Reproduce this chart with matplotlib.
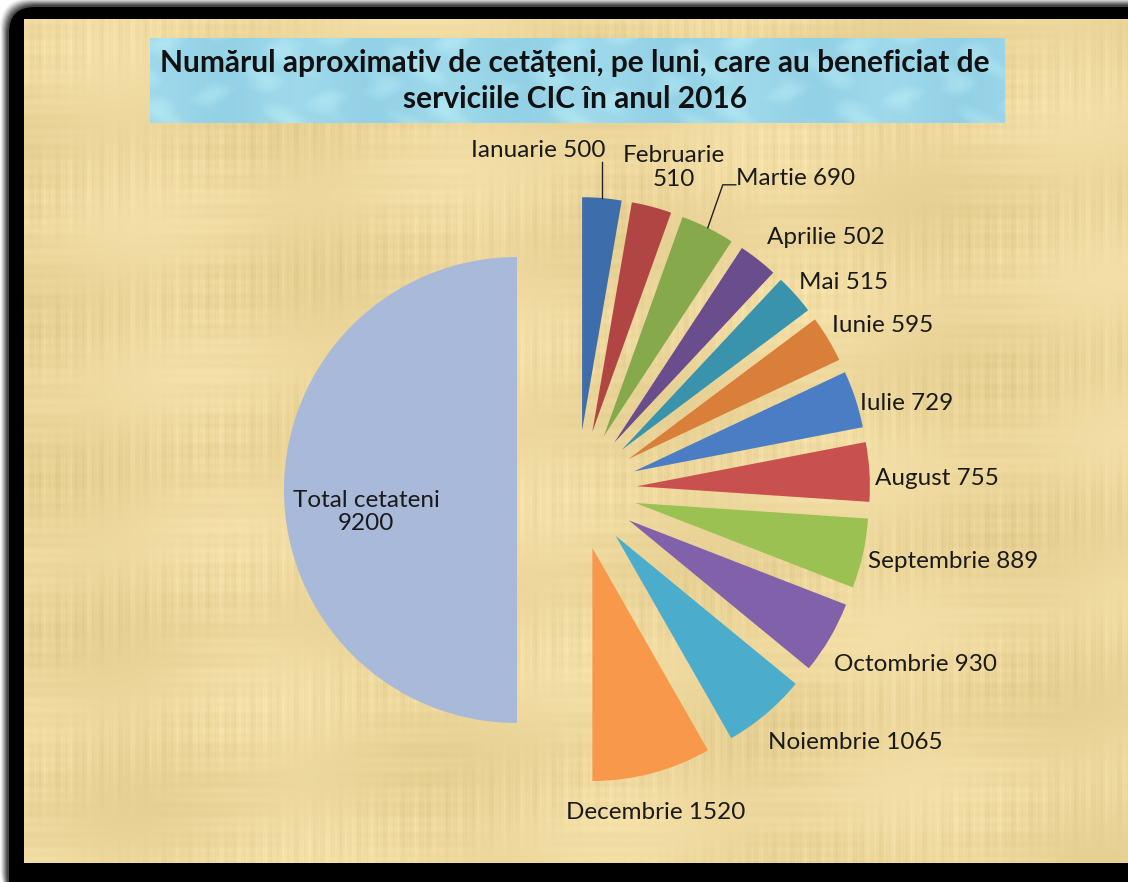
import matplotlib.pyplot as plt
import numpy as np
from matplotlib.patches import FancyBboxPatch

# data
months = ["Ianuarie", "Februarie", "Martie", "Aprilie", "Mai", "Iunie", "Iulie",
          "August", "Septembrie", "Octombrie", "Noiembrie", "Decembrie"]
citizens = [500, 510, 690, 502, 515, 595, 729, 755, 889, 930, 1065, 1520]
total_name = "Total cetateni"
total_value = 9200
title = ("Numărul aproximativ de cetăţeni, pe luni, care au beneficiat de\n"
         "serviciile CIC în anul 2016")

month_colors = ["#3E6DAB", "#B04543", "#86A94C", "#6A4D8C", "#3A93AD", "#D97F3A",
                "#4A7DC4", "#C8504E", "#9BC152", "#8162AA", "#4BADCB", "#F7984A"]
total_color = "#A9B9D9"

# label offsets from the outer middle of each wedge, in pixels (x right, y up)
label_offsets = [(-64, 48), (22, 39), (88, 49), (68, 22), (48, 12), (55, 14),
                 (51, -4), (68, -7), (90, -8), (86, -27), (89, -29), (3, -39),
                 (82, -22)]

W, H = 1128, 882
FONT = ["Lato", "DejaVu Sans"]


def background(fig):
    bg = fig.add_axes([0, 0, 1, 1], zorder=0)
    bg.axis("off")

    # soft shadow + black frame
    for k, a in zip(range(8, 0, -1), np.linspace(0.04, 0.25, 8)):
        bg.add_patch(FancyBboxPatch((8 - k, 6 - k), 1160, 900,
                                    boxstyle="round,pad=0,rounding_size=30",
                                    fc="black", ec="none", alpha=a, zorder=1))
    bg.add_patch(FancyBboxPatch((9, 7), 1160, 900,
                                boxstyle="round,pad=0,rounding_size=26",
                                fc="black", ec="none", zorder=2))

    # parchment: fine vertical/horizontal fibres, a few soft patches
    yy, xx = np.mgrid[0:844, 0:1104].astype(float)
    fib = (np.sin(xx * 0.71) * 0.4 + np.sin(xx * 0.29 + 1.3) * 0.35
           + np.sin(xx * 1.9 + 0.4) * 0.25) * (0.5 + 0.5 * np.sin(yy / 23.0 + xx / 90.0))
    cross = (np.sin(yy * 0.63) * 0.35 + np.sin(yy * 0.21 + 2.1) * 0.3) * \
        (0.5 + 0.5 * np.cos(xx / 31.0))
    blot = np.sin(xx / 83.0 + yy / 61.0) * np.cos(yy / 47.0 - xx / 127.0)
    shade = 0.028 * fib + 0.022 * cross + 0.025 * blot
    base = np.array([0.93, 0.845, 0.615])
    img = np.clip(base + shade[..., None] * np.array([1.0, 1.1, 1.5]), 0, 1)
    bg.imshow(img, extent=(24, 1128, 863, 19), aspect="auto", zorder=3)

    # water-like title box
    yy, xx = np.mgrid[0:85, 0:855].astype(float)
    drops = (np.sin(xx / 13.0 + np.sin(yy / 9.0)) * np.cos(yy / 11.0 - xx / 31.0))
    glow = 0.07 * np.clip(drops, 0, 1) - 0.04 * np.sin(xx / 47.0) ** 2
    wbase = np.array([0.62, 0.85, 0.92])
    wimg = np.clip(wbase + glow[..., None] * np.array([1.0, 0.7, 0.4]), 0, 1)
    bg.imshow(wimg, extent=(150, 1005, 123, 38), aspect="auto", zorder=4)

    bg.set_xlim(0, W)
    bg.set_ylim(H, 0)
    bg.text(575, 81, title, ha="center", va="center", fontsize=21.5,
            fontweight="bold", family=FONT, color="#111111", linespacing=1.35,
            zorder=5)


def main():
    fig = plt.figure(figsize=(W / 100, H / 100), dpi=100)
    fig.patch.set_facecolor("white")
    background(fig)

    values = citizens + [total_value]
    labels = [f"{m} {v}" for m, v in zip(months, citizens)]
    labels[1] = f"{months[1]}\n{citizens[1]}"
    labels.append(f"{total_name}\n{total_value}")
    colors = month_colors + [total_color]

    # pie geometry in pixels: centre and radius
    R, cx, cy = 233.0, 577.0, 490.0
    ax = fig.add_axes([0, 0, 1, 1], zorder=2)
    ax.patch.set_visible(False)
    wedges, _ = ax.pie(values, explode=[60 / R] * len(values), startangle=90,
                       counterclock=False, colors=colors,
                       wedgeprops=dict(linewidth=0))
    ax.set_xlim(-cx / R, (W - cx) / R)
    ax.set_ylim(-(H - cy) / R, cy / R)
    ax.set_aspect("auto")

    for i, (w, lab) in enumerate(zip(wedges, labels)):
        t = np.deg2rad((w.theta1 + w.theta2) / 2)
        ox = w.center[0] + w.r * np.cos(t)
        oy = w.center[1] + w.r * np.sin(t)
        dx, dy = label_offsets[i]
        ax.text(ox + dx / R, oy + dy / R, lab, ha="center", va="center",
                fontsize=17.5, family=FONT, color="#1a1a1a", linespacing=1.15)
        if i == 0:
            ax.plot([ox, ox], [oy, oy + 36 / R], color="#222222", lw=1)
        if i == 2:
            ax.plot([ox, ox + 15 / R, ox + 28 / R],
                    [oy, oy + 43 / R, oy + 43 / R], color="#222222", lw=1)

    fig.savefig("out.png", dpi=100)
    plt.close(fig)


if __name__ == "__main__":
    main()
